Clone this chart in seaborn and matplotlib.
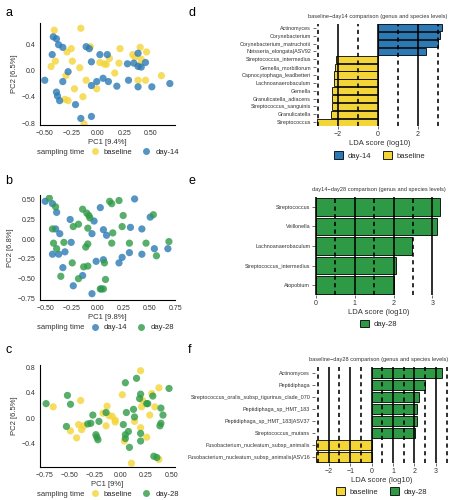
import numpy as np
import pandas as pd
import seaborn as sns
import matplotlib.pyplot as plt
import matplotlib.ticker as mt
from matplotlib.patches import Patch
from matplotlib.lines import Line2D

sns.set_style("white")
plt.rcParams['font.family'] = ['Liberation Sans', 'DejaVu Sans']

# colours per sampling time
pal = {'baseline': '#F4D538', 'day-14': '#2B79B5', 'day-28': '#2E9A45'}

# ---- panel a: PCoA baseline vs day-14
a_base_x = [-0.41, -0.16, -0.07, -0.29, -0.25, -0.40, -0.44, -0.24, -0.17, -0.30, -0.22, -0.28,
            -0.31, -0.11, -0.14, -0.13, -0.01, 0.02, 0.06, 0.08, 0.11, 0.16, 0.21, 0.20, 0.33,
            0.40, 0.41, 0.39, 0.46, 0.45, 0.38, 0.60, 0.35]
a_base_y = [0.61, 0.64, 0.36, 0.28, 0.33, 0.14, 0.06, 0.14, 0.04, -0.08, -0.28, -0.46,
            -0.44, -0.15, -0.40, -0.81, -0.28, 0.12, 0.10, 0.09, 0.18, -0.04, 0.33, 0.11, 0.24,
            0.35, 0.17, 0.08, 0.28, -0.15, -0.15, -0.08, 0.20]
a_d14_x = [-0.50, -0.42, -0.39, -0.37, -0.33, -0.43, -0.33, -0.28, -0.39, -0.38, -0.36, -0.21,
           -0.16, -0.06, -0.11, -0.08, -0.06, -0.06, -0.01, 0.02, 0.05, 0.09, 0.10, 0.18,
           0.28, 0.29, 0.34, 0.38, 0.38, 0.41, 0.45, 0.38, 0.51, 0.68]
a_d14_y = [-0.15, 0.51, 0.48, 0.39, 0.35, 0.24, -0.17, -0.02, -0.33, -0.39, -0.46, -0.52,
           -0.73, -0.70, 0.36, 0.33, 0.13, -0.23, -0.17, 0.24, -0.12, 0.24, -0.17, -0.24,
           0.10, -0.15, 0.11, 0.26, 0.06, 0.05, 0.12, -0.25, -0.25, -0.20]

# ---- panel b: PCoA day-14 vs day-28
b_d14_x = [-0.50, -0.43, -0.39, -0.40, -0.36, -0.43, -0.37, -0.31, -0.33, -0.23, -0.26, -0.25,
           -0.14, -0.03, -0.05, 0.03, 0.06, 0.09, -0.01, 0.06, -0.05, 0.04, 0.21, 0.24,
           0.31, 0.32, 0.36, 0.43, 0.43, 0.51, 0.55, 0.68]
b_d14_y = [0.48, 0.45, 0.34, 0.13, 0.07, -0.19, -0.19, -0.16, -0.36, -0.59, 0.25, -0.04,
           -0.46, 0.23, 0.07, 0.40, 0.12, 0.05, -0.28, -0.26, -0.69, -0.63, -0.30, -0.23,
           -0.17, 0.15, 0.51, 0.13, -0.19, 0.28, -0.12, -0.12]
b_d28_x = [-0.46, -0.40, -0.43, -0.42, -0.39, -0.32, -0.35, -0.24, -0.23, -0.18, -0.14, -0.10,
           -0.08, -0.07, -0.09, -0.11, -0.09, -0.13, -0.09, -0.18, 0.03, 0.06, 0.08, 0.07,
           0.12, 0.14, 0.21, 0.25, 0.24, 0.15, 0.14, 0.31, 0.47, 0.54, 0.57, 0.69]
b_d28_y = [0.52, 0.41, 0.13, -0.05, -0.12, -0.04, -0.47, -0.30, 0.16, 0.19, 0.38, 0.33,
           0.30, 0.27, 0.14, -0.10, -0.06, -0.35, -0.34, -0.50, -0.63, -0.63, -0.51, -0.30,
           0.48, 0.45, 0.49, 0.30, 0.16, 0.08, -0.05, -0.05, -0.05, 0.31, -0.21, -0.03]

# ---- panel c: PCoA baseline vs day-28
c_base_x = [-0.66, -0.39, -0.41, -0.49, -0.43, -0.38, -0.36, -0.13, -0.17, -0.14, -0.11, -0.08,
            -0.05, -0.05, 0.02, 0.04, 0.11, 0.20, 0.14, 0.22, 0.21, 0.20, 0.26, 0.29, 0.31,
            0.38, 0.34, 0.38]
c_base_y = [0.18, 0.28, -0.10, -0.20, -0.31, -0.18, -0.12, 0.19, 0.08, -0.12, 0.04, 0.03,
            -0.03, -0.06, 0.37, -0.36, -0.71, 0.75, -0.05, 0.28, 0.18, -0.15, -0.30, 0.05,
            0.39, 0.48, 0.18, -0.65]
c_d28_x = [-0.73, -0.52, -0.49, -0.53, -0.32, -0.29, -0.27, -0.21, -0.24, -0.23, -0.22, -0.14,
           0.05, 0.06, 0.03, 0.05, 0.08, 0.05, 0.09, 0.16, 0.13, 0.20, 0.19, 0.26, 0.14,
           0.20, 0.20, 0.32, 0.36, 0.33, 0.48, 0.40, 0.42, 0.40, 0.39, 0.27]
c_d28_y = [0.23, 0.36, 0.22, -0.13, -0.09, -0.08, 0.05, -0.05, -0.26, -0.30, -0.34, 0.09,
           0.56, 0.09, -0.10, -0.26, -0.21, -0.32, -0.46, 0.63, 0.14, 0.38, 0.31, 0.23, 0.02,
           -0.24, -0.36, 0.35, -0.62, -0.60, 0.47, 0.16, 0.05, -0.08, -0.12, 0.23]

# ---- panel d: LEfSe baseline vs day-14
d_taxa = ['Actinomyces', 'Corynebacterium', 'Corynebacterium_matruchotii', 'Neisseria_elongata|ASV92',
          'Streptococcus_intermedius', 'Gemella_morbillorum', 'Capnocytophaga_leadbetteri',
          'Lachnoanaerobaculum', 'Gemella', 'Granulicatella_adiacens', 'Streptococcus_sanguinis',
          'Granulicatella', 'Streptococcus']
d_lda = [3.18, 3.10, 3.02, 2.38, -2.12, -2.15, -2.20, -2.20, -2.28, -2.32, -2.32, -2.33, -3.07]
d_grp = ['day-14'] * 4 + ['baseline'] * 9

# ---- panel e: LEfSe day-14 vs day-28
e_taxa = ['Streptococcus', 'Veillonella', 'Lachnoanaerobaculum', 'Streptococcus_intermedius', 'Atopobium']
e_lda = [3.19, 3.12, 2.48, 2.06, 2.00]
e_grp = ['day-28'] * 5

# ---- panel f: LEfSe baseline vs day-28
f_taxa = ['Actinomyces', 'Peptidiphaga', 'Streptococcus_oralis_subsp_tigurinus_clade_070',
          'Peptidiphaga_sp_HMT_183', 'Peptidiphaga_sp_HMT_183|ASV37', 'Streptococcus_mutans',
          'Fusobacterium_nucleatum_subsp_animalis', 'Fusobacterium_nucleatum_subsp_animalis|ASV16']
f_lda = [3.28, 2.47, 2.20, 2.10, 2.12, 2.03, -2.60, -2.60]
f_grp = ['day-28'] * 6 + ['baseline'] * 2

TXT = '#333333'


def minus(fmt):
    return mt.FuncFormatter(lambda v, p: format(v, fmt).replace('-', '\u2212'))


def pcoa_panel(ax, groups, xlab, ylab, xlim, ylim, xticks, yticks, xfmt, yfmt):
    frames = []
    for name, xs, ys in groups:
        frames.append(pd.DataFrame({'PC1': xs, 'PC2': ys, 'time': name}))
    df = pd.concat(frames, ignore_index=True)
    order = [g[0] for g in groups]
    sns.scatterplot(data=df, x='PC1', y='PC2', hue='time', hue_order=order, palette=pal,
                    s=27, alpha=0.8, edgecolor='none', legend=False, ax=ax)
    ax.set_xlim(*xlim)
    ax.set_ylim(*ylim)
    ax.set_xticks(xticks)
    ax.set_yticks(yticks)
    ax.xaxis.set_major_formatter(minus(xfmt))
    ax.yaxis.set_major_formatter(minus(yfmt))
    ax.set_xlabel(xlab, fontsize=5.5, color=TXT, labelpad=1.5)
    ax.set_ylabel(ylab, fontsize=5.5, color=TXT, labelpad=2)
    ax.tick_params(labelsize=5, colors=TXT, length=2, width=0.5, pad=1.5, direction='out')
    sns.despine(ax=ax)
    for s in ['left', 'bottom']:
        ax.spines[s].set_linewidth(0.8)
        ax.spines[s].set_color('black')
    # legend below: "sampling time" + entries
    hs = [Line2D([], [], marker='o', ls='', ms=5, color=pal[g], alpha=0.8, mec='none') for g in order]
    ax.text(0.33, -0.265, 'sampling time', transform=ax.transAxes, fontsize=5.5, color=TXT,
            ha='right', va='center')
    ax.legend(hs, order, loc='center left', bbox_to_anchor=(0.36, -0.265), ncol=2, frameon=False,
              fontsize=5.5, handletextpad=0.8, columnspacing=1.4, borderaxespad=0, handlelength=0.8)


def lda_panel(ax, taxa, lda, grp, title, leg_order, major, minor, xlim, title_x=0.5):
    df = pd.DataFrame({'taxon': taxa, 'lda': lda, 'group': grp})
    sns.barplot(data=df, x='lda', y='taxon', hue='group', palette=pal, dodge=False,
                saturation=1, width=0.9, edgecolor='black', linewidth=0.6, legend=False, ax=ax)
    ax.set_xlim(*xlim)
    ax.xaxis.set_major_locator(mt.MultipleLocator(major))
    ax.xaxis.set_major_formatter(minus('g'))
    # reference lines on top of the bars: solid at major steps, dashed in between
    lo, hi = xlim
    for v in np.arange(np.ceil(lo / minor) * minor, hi + 1e-9, minor):
        on_major = abs(v / major - round(v / major)) < 1e-6
        ax.axvline(v, color='black', lw=1.15, zorder=10,
                   ls='-' if on_major else (0, (2.6, 2.2)))
    ax.grid(False)
    for s in ax.spines.values():
        s.set_visible(False)
    ax.set_ylabel('')
    ax.set_xlabel('LDA score (log10)', fontsize=5.5, color=TXT, labelpad=1.5)
    ax.set_title(title, fontsize=4.05, color=TXT, pad=4, x=title_x)
    ax.tick_params(axis='y', labelsize=3.9, colors=TXT, length=2, width=0.5, pad=1.5, left=True)
    ax.tick_params(axis='x', labelsize=5, colors=TXT, length=2, width=0.5, pad=1.5, bottom=True)
    hs = [Patch(facecolor=pal[g], edgecolor='black', lw=0.6) for g in leg_order]
    ax.legend(hs, leg_order, loc='upper center', bbox_to_anchor=(0.5, -0.22), ncol=len(leg_order),
              frameon=False, fontsize=5.5, handlelength=1.2, handleheight=1.2, handletextpad=0.6,
              columnspacing=1.5, borderaxespad=0)


fig = plt.figure(figsize=(4.52, 5.0), dpi=100)

ax_a = fig.add_axes([0.0885, 0.750, 0.299, 0.204])
ax_b = fig.add_axes([0.0885, 0.400, 0.299, 0.210])
ax_c = fig.add_axes([0.0885, 0.066, 0.299, 0.204])
ax_d = fig.add_axes([0.699, 0.748, 0.281, 0.204])
ax_e = fig.add_axes([0.697, 0.410, 0.281, 0.196])
ax_f = fig.add_axes([0.697, 0.074, 0.294, 0.192])

pcoa_panel(ax_a, [('baseline', a_base_x, a_base_y), ('day-14', a_d14_x, a_d14_y)],
           'PC1 [9.4%]', 'PC2 [6.5%]', (-0.545, 0.73), (-0.83, 0.72),
           [-0.5, -0.25, 0, 0.25, 0.5], [-0.8, -0.4, 0, 0.4], '.2f', '.1f')
pcoa_panel(ax_b, [('day-14', b_d14_x, b_d14_y), ('day-28', b_d28_x, b_d28_y)],
           'PC1 [9.8%]', 'PC2 [6.8%]', (-0.55, 0.74), (-0.77, 0.56),
           [-0.5, -0.25, 0, 0.25, 0.5, 0.75], [-0.75, -0.5, -0.25, 0, 0.25, 0.5], '.2f', '.2f')
pcoa_panel(ax_c, [('baseline', c_base_x, c_base_y), ('day-28', c_d28_x, c_d28_y)],
           'PC1 [9%]', 'PC2 [6.5%]', (-0.79, 0.54), (-0.77, 0.84),
           [-0.75, -0.5, -0.25, 0, 0.25, 0.5], [-0.4, 0, 0.4, 0.8], '.2f', '.1f')

lda_panel(ax_d, d_taxa, d_lda, d_grp, 'baseline\u2212day14 comparison (genus and species levels)',
          ['day-14', 'baseline'], 2, 1, (-3.1, 3.25), 0.49)
lda_panel(ax_e, e_taxa, e_lda, e_grp, 'day14\u2212day28 comparison (genus and species levels)',
          ['day-28'], 1, 0.5, (-0.02, 3.25), 0.5)
lda_panel(ax_f, f_taxa, f_lda, f_grp, 'baseline\u2212day28 comparison (genus and species levels)',
          ['baseline', 'day-28'], 1, 0.5, (-2.64, 3.56), 0.475)

for lab, x, y in [('a', 0.012, 0.975), ('b', 0.012, 0.638), ('c', 0.012, 0.300),
                  ('d', 0.416, 0.975), ('e', 0.416, 0.638), ('f', 0.416, 0.300)]:
    fig.text(x, y, lab, fontsize=9, color='black', va='center')

fig.savefig('out.png', dpi=100)
